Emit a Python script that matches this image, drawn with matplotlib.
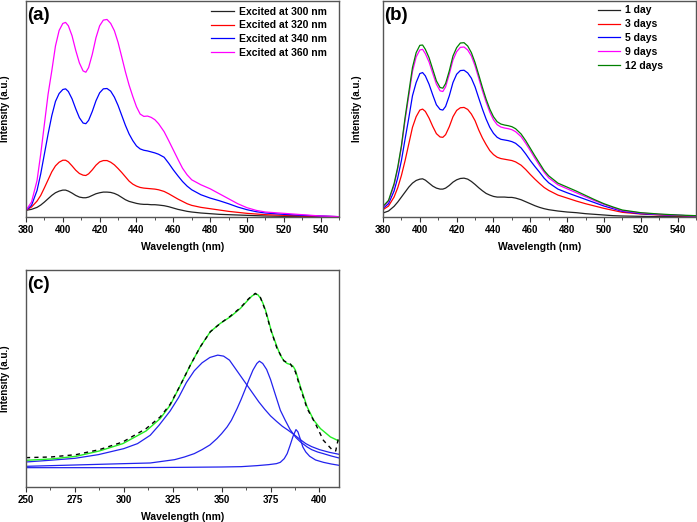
import numpy as np
import matplotlib.pyplot as plt
from matplotlib.ticker import MultipleLocator

plt.rcParams['font.family'] = ['Liberation Sans', 'DejaVu Sans']
plt.rcParams['font.weight'] = 'bold'

# ---- panel (a): excitation wavelength series ----
wl_a = [380, 383, 386, 388, 390, 392, 394, 396, 398, 400, 401.5, 403, 405, 407, 409, 411,
        412.5, 414, 416, 418, 420, 422, 424, 426, 428, 430, 432, 434, 436, 438, 440, 442,
        444, 446, 448, 450, 452, 455, 457.5, 460, 462.5, 465, 467.5, 470, 475, 480, 485,
        490, 495, 500, 505, 510, 520, 530, 540, 550]
ex300 = [20, 23, 29, 36, 45, 55, 65, 73, 78, 81, 81, 78, 72, 65, 60, 58,
         58, 60, 65, 70, 73, 75, 75, 74, 71, 66, 59, 52, 47, 44, 41, 39,
         38, 38, 37, 37, 36, 34, 31, 27, 23, 20, 17, 15, 12, 10, 8,
         7, 6, 5, 4, 3, 2, 2, 1, 1]
ex320 = [20, 30, 48, 65, 88, 112, 136, 154, 165, 171, 171, 166, 154, 141, 131, 126,
         125, 130, 142, 156, 166, 170, 170, 165, 157, 146, 134, 121, 108, 99, 93, 89,
         87, 86, 85, 84, 82, 77, 70, 62, 54, 47, 40, 35, 29, 25, 21,
         17, 14, 11, 9, 7, 5, 3, 2, 1]
ex340 = [20, 35, 80, 130, 190, 250, 305, 348, 372, 384, 386, 378, 356, 326, 299, 283,
         281, 291, 318, 350, 374, 386, 387, 379, 361, 336, 306, 276, 250, 230, 214, 205,
         201, 199, 196, 193, 189, 180, 162, 142, 124, 107, 93, 82, 67, 57, 49,
         40, 30, 22, 16, 12, 8, 5, 3, 1]
ex360 = [20, 45, 110, 190, 280, 370, 440, 515, 562, 583, 586, 576, 546, 502, 464, 440,
         436, 450, 490, 540, 576, 593, 595, 583, 561, 526, 482, 437, 397, 363, 332, 310,
         303, 304, 300, 293, 281, 257, 230, 202, 174, 147, 127, 112, 97, 85, 70,
         55, 40, 28, 20, 15, 11, 7, 3, 1]
labels_a = ['Excited at 300 nm', 'Excited at 320 nm', 'Excited at 340 nm', 'Excited at 360 nm']

# ---- panel (b): ageing series ----
wl_b = wl_a
day1 = [12, 18, 32, 45, 60, 75, 90, 102, 110, 114, 115, 111, 102, 93, 87, 84,
        84, 87, 95, 105, 112, 116, 117, 114, 107, 98, 88, 79, 71, 66, 62, 60,
        60, 60, 59, 59, 57, 52, 46, 40, 34, 29, 25, 22, 18, 15, 13,
        10, 8, 6, 4, 3, 2, 1, 1, 1]
day3 = [22, 33, 60, 88, 125, 170, 220, 270, 302, 322, 325, 318, 298, 273, 251, 241,
        240, 248, 272, 302, 321, 329, 330, 324, 310, 290, 262, 238, 218, 200, 188, 180,
        176, 174, 172, 170, 166, 156, 143, 128, 114, 101, 89, 80, 66, 57, 48,
        40, 33, 26, 20, 14, 9, 6, 4, 3]
day5 = [26, 40, 78, 118, 170, 235, 298, 365, 405, 432, 435, 425, 400, 368, 338, 324,
        322, 333, 365, 405, 430, 441, 442, 434, 418, 392, 358, 325, 295, 270, 252, 240,
        234, 232, 230, 227, 222, 208, 190, 170, 152, 135, 117, 103, 84, 73, 63,
        53, 43, 33, 25, 17, 10, 7, 5, 3]
day9 = [30, 47, 95, 145, 210, 292, 365, 438, 482, 503, 505, 492, 467, 433, 400, 380,
        378, 392, 430, 473, 498, 511, 512, 503, 485, 455, 418, 380, 346, 316, 293, 278,
        271, 268, 266, 263, 257, 242, 222, 200, 177, 155, 135, 118, 97, 85, 73,
        61, 49, 38, 28, 19, 12, 8, 5, 3]
day12 = [32, 50, 100, 150, 215, 300, 375, 450, 495, 517, 518, 505, 480, 445, 410, 390,
         388, 402, 440, 485, 510, 524, 525, 515, 495, 465, 428, 390, 355, 325, 302, 287,
         280, 277, 275, 272, 266, 250, 230, 207, 184, 162, 140, 124, 102, 90, 78,
         65, 52, 40, 30, 21, 13, 9, 6, 4]
labels_b = ['1 day', '3 days', '5 days', '9 days', '12 days']

# ---- panel (c): deconvolution ----
wl_fit = [250, 262.8, 275.6, 287.5, 299.5, 311.4, 318.6, 323.7, 328.9, 334, 339.1,
          344.2, 349.3, 354.5, 359.6, 363.8, 365.5, 367.2, 368.5, 369.8, 371, 372.4,
          374, 375.5, 378.3, 380, 381.8, 383.5, 385.2, 386.5, 387.7, 389, 390.3,
          393.7, 397.1, 400.5, 405.6, 409.9]
fit_sum = [80, 84, 92, 108, 130, 168, 205, 245, 305, 365, 420,
           465, 490, 510, 535, 562, 572, 578, 576, 566, 552, 530,
           497, 465, 420, 395, 378, 370, 367, 362, 350, 325, 300,
           240, 200, 175, 150, 138]
wl_meas = [250, 262.8, 275.6, 287.5, 299.5, 311.4, 318.6, 323.7, 328.9, 334, 339.1,
           344.2, 349.3, 354.5, 359.6, 363.8, 367.2, 369.8, 372.4, 374.9, 378.3,
           381.8, 385.2, 387.7, 390.3, 393.7, 397.9, 402, 406.4, 408.3, 410]
measured = [88, 90, 97, 112, 135, 175, 210, 248, 305, 365, 420,
            465, 490, 512, 537, 564, 580, 568, 528, 475, 415,
            378, 368, 345, 295, 235, 190, 140, 112, 108, 155]
wl_p1 = [250, 262, 275, 287, 300, 307, 313.5, 318, 323.7, 328, 332, 336, 340, 344, 348,
         351, 354, 357, 360, 363, 366, 369, 372, 375, 378, 381, 384, 387, 390, 393,
         396, 400, 405, 410]
peak1 = [75, 80, 86, 97, 115, 130, 155, 185, 228, 268, 313, 348, 372, 388, 395,
         392, 380, 355, 330, 305, 280, 255, 233, 213, 197, 182, 170, 157, 143, 130,
         121, 112, 104, 98]
wl_p2 = [250, 275, 300, 313.5, 326, 331, 336, 340, 344, 347.6, 350, 352.8, 355, 357.9,
         360, 362, 364, 366, 368, 369.3, 371, 373, 375, 377, 380, 382.5, 385, 388,
         390.3, 393.7, 396, 399, 402, 406, 410]
peak2 = [62, 66, 70, 72, 82, 90, 100, 112, 126, 145, 160, 180, 200, 235,
         263, 292, 322, 350, 370, 377, 370, 352, 322, 285, 230, 200, 172, 148,
         135, 120, 112, 105, 100, 93, 87]
wl_p3 = [250, 300, 330, 350, 360, 368, 374, 378, 380, 382, 383.5, 385, 386.5, 388, 389,
         390.3, 391.5, 393, 395, 398, 402, 406, 410]
peak3 = [58, 58, 59, 60, 61, 64, 67, 70, 74, 85, 100, 125, 152, 172, 165,
         142, 120, 105, 92, 81, 74, 69, 65]


def style(ax, xmin, xmax, major, minor, ymax, tag, ylab_x):
    ax.set_xlim(xmin, xmax)
    ax.set_ylim(0, ymax)
    ax.xaxis.set_major_locator(MultipleLocator(major))
    ax.xaxis.set_minor_locator(MultipleLocator(minor))
    ax.set_yticks([])
    ax.tick_params(axis='x', which='major', direction='out', length=3.5, width=0.8,
                   labelsize=7, pad=2.5, color='#333333')
    ax.tick_params(axis='x', which='minor', direction='out', length=2, width=0.6,
                   color='#333333')
    for s in ax.spines.values():
        s.set_color('#555555')
        s.set_linewidth(1.0)
    ax.set_xlabel('Wavelength (nm)', fontsize=7.5, fontweight='bold', labelpad=5)
    ax.set_ylabel('Intensity (a.u.)', fontsize=7, fontweight='bold')
    ax.yaxis.set_label_coords(ylab_x, 0.5)
    ax.text(0.004, 0.972, tag, transform=ax.transAxes, ha='left', va='top',
            fontsize=13.5, fontweight='bold')


fig = plt.figure(figsize=(6.97, 5.22), dpi=100)
ax_a = fig.add_axes([0.0373, 0.5843, 0.4491, 0.4147])
ax_b = fig.add_axes([0.5495, 0.5843, 0.4491, 0.4147])
ax_c = fig.add_axes([0.0373, 0.067, 0.4491, 0.4158])

for ys, c, lab in zip([ex300, ex320, ex340, ex360], ['#222222', 'red', 'blue', 'magenta'], labels_a):
    ax_a.plot(wl_a, ys, color=c, lw=0.9, label=lab)
style(ax_a, 380, 550, 20, 10, 652, '(a)', -0.05)
ax_a.legend(loc='upper right', frameon=False, fontsize=7.5, handlelength=2.2,
            handletextpad=0.4, labelspacing=0.35, borderaxespad=0,
            bbox_to_anchor=(0.973, 0.99))

for ys, c, lab in zip([day1, day3, day5, day9, day12],
                      ['#222222', 'red', 'blue', 'magenta', 'green'], labels_b):
    ax_b.plot(wl_b, ys, color=c, lw=0.9, label=lab)
style(ax_b, 380, 550, 20, 10, 652, '(b)', -0.067)
ax_b.legend(loc='upper left', frameon=False, fontsize=7.5, handlelength=2.2,
            handletextpad=0.4, labelspacing=0.37, borderaxespad=0,
            bbox_to_anchor=(0.672, 0.997))

for xs, ys in [(wl_p1, peak1), (wl_p2, peak2), (wl_p3, peak3)]:
    ax_c.plot(xs, ys, color='#2222ee', lw=0.9)
ax_c.plot(wl_fit, fit_sum, color='#22ee22', lw=1.0)
ax_c.plot(wl_meas, measured, color='black', lw=1.0, ls=(0, (3, 3)))
style(ax_c, 250, 410, 25, 12.5, 650, '(c)', -0.05)

fig.savefig('out.png', dpi=100)
